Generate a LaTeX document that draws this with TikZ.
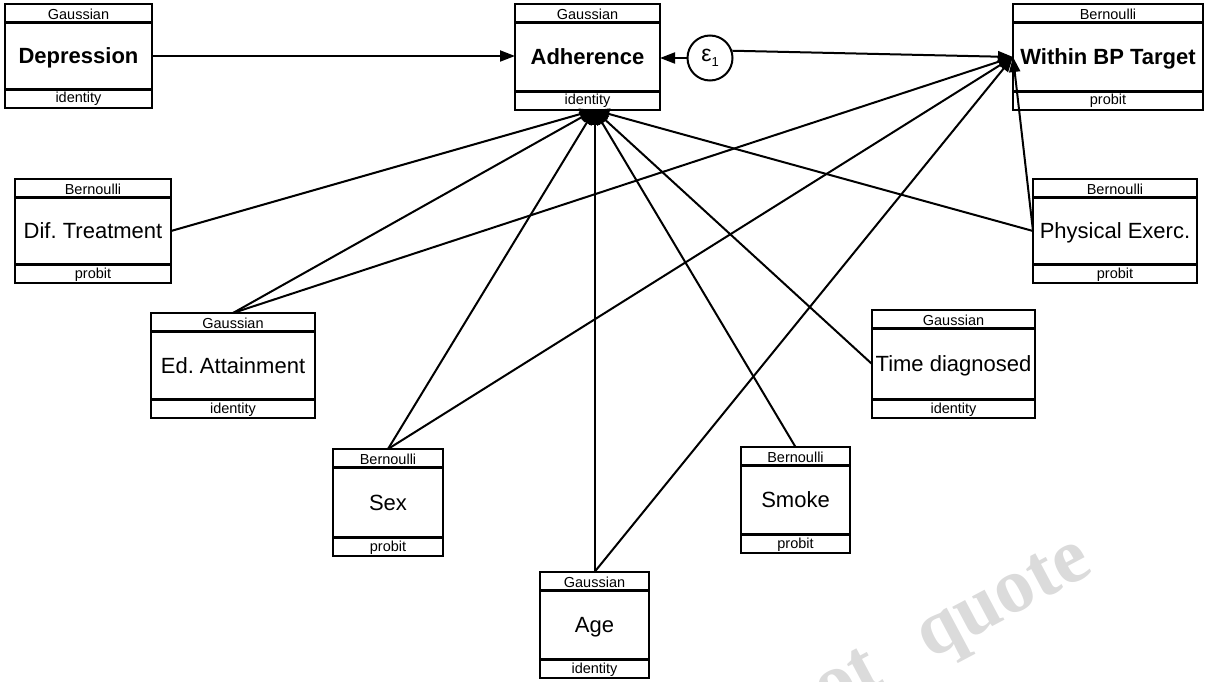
\documentclass[tikz,border=0pt]{standalone}
\usepackage{fontspec}
\setmainfont{Liberation Sans}
\newfontfamily\wmfont{Liberation Serif}
\usetikzlibrary{arrows.meta,calc,backgrounds}
\frenchspacing
\tikzset{
  boxframe/.style={draw, line width=2.4pt, fill=white, inner sep=0pt, outer sep=0pt},
  boxline/.style={line width=2.4pt},
  smalltxt/.style={inner sep=0pt, anchor=base, font=\fontsize{14.5}{15}\selectfont},
  bigtxt/.style={inner sep=0pt, anchor=base, font=\fontsize{22}{24}\selectfont},
  edge/.style={line width=2pt, -{Triangle[length=15pt,width=11pt]}},
}
% #1 name, #2 x1, #3 y1, #4 x2, #5 y2, #6 top, #7 label, #8 bottom
\newcommand\semnode[8]{%
  \node[boxframe, minimum width={(#4-#2)*1pt}, minimum height={(#5-#3)*1pt}, anchor=north west] (#1) at (#2,#3) {};
  \draw[boxline] (#2,{#3+18.5}) -- (#4,{#3+18.5});
  \draw[boxline] (#2,{#5-18.5}) -- (#4,{#5-18.5});
  \node[smalltxt] (#1-top) at ({(#2+#4)/2},{#3+15.5}) {#6};
  \node[bigtxt] (#1-lbl) at ({(#2+#4)/2},{(#3+#5)/2+7.8}) {#7};
  \node[smalltxt] (#1-bot) at ({(#2+#4)/2},{#5-5}) {#8};
}
\begin{document}
\begin{tikzpicture}[x=1pt,y=-1pt]
\useasboundingbox (0,0) rectangle (1205,682);
\begin{scope}
  \clip (0,0) rectangle (1205,682);
  \node[rotate=28, anchor=base east, text=black!14, inner sep=0pt,
        font=\wmfont\bfseries\fontsize{78}{78}\selectfont] (wm) at (1095,572) {Do not\hspace{0.4em} quote};
\end{scope}

\semnode{dep}{5}{4}{152}{108}{Gaussian}{\bfseries Depression}{identity}
\semnode{adh}{515}{4}{660}{110}{Gaussian}{\bfseries Adherence}{identity}
\semnode{wbp}{1013}{4}{1203}{110}{Bernoulli}{\bfseries Within BP Target}{probit}
\semnode{dif}{15}{179}{171}{283}{Bernoulli}{Dif. Treatment}{probit}
\semnode{pe}{1033}{179}{1197}{283}{Bernoulli}{Physical Exerc.}{probit}
\semnode{ed}{151}{313}{315}{418}{Gaussian}{Ed. Attainment}{identity}
\semnode{td}{872}{310}{1035}{418}{Gaussian}{Time diagnosed}{identity}
\semnode{sex}{333}{449}{443}{556}{Bernoulli}{Sex}{probit}
\semnode{smk}{741}{447}{850}{553}{Bernoulli}{Smoke}{probit}
\semnode{age}{540}{572}{649}{678}{Gaussian}{Age}{identity}

\node[circle, draw, line width=2pt, fill=white, minimum size=45pt, inner sep=0pt] (eps) at (710,58)
  {{\fontsize{23}{23}\selectfont ε}\raisebox{-5pt}{\fontsize{13}{13}\selectfont 1}};

\coordinate (adhin) at (adh.south -| age.north);
\coordinate (wbpin) at (wbp.west);

\draw[edge] (eps.18) -- (wbpin);
\draw[edge] (dep.east) -- (dep.east -| adh.west);
\draw[edge] (eps) -- (eps -| adh.east);

\draw[edge] (dif.east) -- (adhin);
\draw[edge] (ed.north) -- (adhin);
\draw[edge] (ed.north) -- (wbpin);
\draw[edge] (sex.north) -- (adhin);
\draw[edge] (sex.north) -- (wbpin);
\draw[edge] (age.north) -- (adhin);
\draw[edge] (age.north) -- (wbpin);
\draw[edge] (smk.north) -- (adhin);
\draw[edge] (td.west) -- (adhin);
\draw[edge] (pe.west) -- (adhin);
\draw[edge] (pe.west) -- (wbpin);
\end{tikzpicture}
\end{document}
